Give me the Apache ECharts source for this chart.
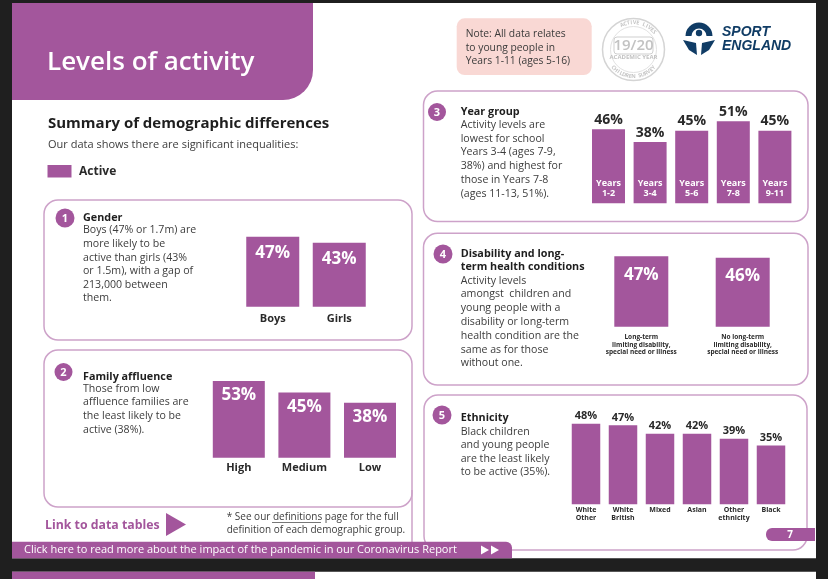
<!DOCTYPE html>
<html><head><meta charset="utf-8">
<script src="https://cdn.jsdelivr.net/npm/echarts@6/dist/echarts.min.js"></script>
<style>html,body{margin:0;padding:0;background:#1f1f1f}#c{width:828px;height:579px}</style>
</head><body><div id="c"></div><script>
// ---- data ----
const genderCats = ['Boys', 'Girls'];
const genderVals = [47, 43];
const affluenceCats = ['High', 'Medium', 'Low'];
const affluenceVals = [53, 45, 38];
const yearCats = ['Years\n1-2', 'Years\n3-4', 'Years\n5-6', 'Years\n7-8', 'Years\n9-11'];
const yearVals = [46, 38, 45, 51, 45];
const disabilityCats = ['Long-term\nlimiting disability,\nspecial need or illness', 'No long-term\nlimiting disability,\nspecial need or illness'];
const disabilityVals = [47, 46];
const ethnicityCats = ['White\nOther', 'White\nBritish', 'Mixed', 'Asian', 'Other\nethnicity', 'Black'];
const ethnicityVals = [48, 47, 42, 42, 39, 35];
const yMax = 60;

// ---- styles ----
const FONT = "'Open Sans','Noto Sans',sans-serif";
const PURPLE = '#a3569c';
const BORDER = '#cda2c9';
const DARK = '#2a2a2a';
const BODY = '#3c3c3c';
const NAVY = '#103c65';

const panels = [
  {cats: genderCats, vals: genderVals, grid: {left: 239.5, top: 217.4, width: 133, height: 89.3}, barWidth: 53,
   label: {position: 'insideTop', distance: 8, color: '#fff', fontSize: 17},
   axisLabel: {fontSize: 11, color: DARK, margin: 7}},
  {cats: affluenceCats, vals: affluenceVals, grid: {left: 206, top: 370.9, width: 196.8, height: 86.8}, barWidth: 52,
   label: {position: 'insideTop', distance: 6, color: '#fff', fontSize: 17},
   axisLabel: {fontSize: 11, color: DARK, margin: 5}},
  {cats: yearCats, vals: yearVals, grid: {left: 587.7, top: 106.7, width: 208, height: 96.6}, barWidth: 33,
   label: {position: 'top', distance: 2.5, color: DARK, fontSize: 14},
   axisLabel: {inside: true, fontSize: 9, color: '#fff', margin: 5, lineHeight: 10}},
  {cats: disabilityCats, vals: disabilityVals, grid: {left: 590.6, top: 236.7, width: 202.8, height: 90}, barWidth: 54,
   label: {position: 'insideTop', distance: 10, color: '#fff', fontSize: 17},
   axisLabel: {fontSize: 6.5, color: DARK, margin: 6.5, lineHeight: 7.7}},
  {cats: ethnicityCats, vals: ethnicityVals, grid: {left: 567.5, top: 403.5, width: 222, height: 100.8}, barWidth: 28.5,
   label: {position: 'top', distance: 2, color: DARK, fontSize: 11},
   axisLabel: {fontSize: 7, color: DARK, margin: 1.5, lineHeight: 8.3}}
];

const grid = [], xAxis = [], yAxis = [], series = [];
panels.forEach((p, i) => {
  grid.push(Object.assign({containLabel: false}, p.grid));
  xAxis.push({type: 'category', gridIndex: i, data: p.cats, z: 5,
    axisLine: {show: false}, axisTick: {show: false}, splitLine: {show: false},
    axisLabel: Object.assign({interval: 0, fontFamily: FONT, fontWeight: 'bold'}, p.axisLabel)});
  yAxis.push({type: 'value', gridIndex: i, min: 0, max: yMax, show: false, splitLine: {show: false}});
  series.push({type: 'bar', xAxisIndex: i, yAxisIndex: i, data: p.vals, barWidth: p.barWidth,
    itemStyle: {color: PURPLE}, z: 2,
    label: Object.assign({show: true, formatter: '{c}%', fontFamily: FONT, fontWeight: 'bold'}, p.label)});
});

// ---- graphic helpers ----
function T(x, y, text, size, o) {
  return {type: 'text', x: x, y: y, z: 5, style: Object.assign({text: text, fontSize: size, fontFamily: FONT, fill: BODY,
    align: 'left', verticalAlign: 'middle'}, o || {})};
}
function block(x, firstCenter, lines, size, lh, o) {
  return {type: 'text', x: x, y: firstCenter - lh / 2, z: 5, style: Object.assign({text: lines.join('\n'), fontSize: size,
    fontFamily: FONT, fill: BODY, align: 'left', verticalAlign: 'top', lineHeight: lh}, o || {})};
}
function box(x, y, w, h, r) {
  return {type: 'rect', shape: {x: x, y: y, width: w, height: h, r: r}, z: 1, style: {fill: 'none', stroke: BORDER, lineWidth: 1.5}};
}
function num(cx, cy, r, n) {
  return [{type: 'circle', shape: {cx: cx, cy: cy, r: r}, z: 3, style: {fill: PURPLE}},
          T(cx, cy + 0.5, n, 11, {align: 'center', fill: '#fff', fontWeight: 'bold'})];
}

const g = [];
// page
g.push({type: 'rect', shape: {x: 12, y: 3, width: 804, height: 555.3}, z: 0, style: {fill: '#fff'}});
g.push({type: 'rect', shape: {x: 12, y: 571.7, width: 804, height: 10}, z: 0, style: {fill: '#fff'}});
g.push({type: 'rect', shape: {x: 12, y: 571.7, width: 303, height: 10}, z: 0, style: {fill: PURPLE}});
// header
g.push({type: 'rect', shape: {x: 12, y: 3, width: 301, height: 97, r: [0, 0, 30, 0]}, z: 1, style: {fill: PURPLE}});
g.push(T(47, 63, 'Levels of activity', 26, {fill: '#fff', fontWeight: 600}));
g.push(T(48, 124, 'Summary of demographic differences', 15, {fill: '#1e1e1e', fontWeight: 'bold'}));
g.push(T(48, 145, 'Our data shows there are significant inequalities:', 11, {fill: BODY}));
g.push({type: 'rect', shape: {x: 47.5, y: 165, width: 24, height: 12.5}, z: 1, style: {fill: PURPLE}});
g.push(T(79, 171.5, 'Active', 12, {fill: DARK, fontWeight: 'bold'}));

// note box
g.push({type: 'rect', shape: {x: 456.7, y: 18.3, width: 135, height: 56.7, r: 8}, z: 1, style: {fill: '#f9d8d4'}});
g.push(block(465.7, 34.3, ['Note: All data relates', 'to young people in', 'Years 1-11 (ages 5-16)'], 10.3, 13.3, {fill: '#3a3a3a'}));

// Active Lives badge
const bcx = 633.5, bcy = 49.5;
g.push({type: 'circle', shape: {cx: bcx, cy: bcy, r: 31}, z: 1, style: {fill: 'none', stroke: '#d4d4d4', lineWidth: 1.5}});
g.push({type: 'circle', shape: {cx: bcx, cy: bcy, r: 23}, z: 1, style: {fill: 'none', stroke: '#e2e2e2', lineWidth: 1}});
g.push({type: 'rect', shape: {x: 614, y: 37, width: 39, height: 17, r: 3}, z: 1, style: {fill: 'none', stroke: '#cfcfcf', lineWidth: 1}});
g.push(T(bcx, 45.8, '19/20', 15, {align: 'center', fill: '#c2c2c2', fontWeight: 600}));
g.push(T(bcx, 57, 'ACADEMIC YEAR', 6, {align: 'center', fill: '#c2c2c2', fontWeight: 'bold'}));
function arcText(str, a0, a1, R, bottom) {
  const n = str.length;
  for (let i = 0; i < n; i++) {
    const a = (a0 + (a1 - a0) * (n === 1 ? 0.5 : i / (n - 1))) * Math.PI / 180;
    const x = bcx + R * Math.cos(a), y = bcy - R * Math.sin(a);
    const rot = bottom ? a - 1.5 * Math.PI : a - 0.5 * Math.PI;
    g.push({type: 'text', x: x, y: y, rotation: rot, z: 5, style: {text: str[i], fontSize: 5.5, fontFamily: FONT,
      fontWeight: 'bold', fill: '#c6c6c6', align: 'center', verticalAlign: 'middle'}});
  }
}
arcText('ACTIVE LIVES', 115, 40, 27, false);
arcText('CHILDREN SURVEY', 222, 318, 27, true);

// Sport England logo
g.push({type: 'arc', shape: {cx: 699, cy: 36, r: 10.5, startAngle: Math.PI, endAngle: 2 * Math.PI, clockwise: true}, z: 3,
  style: {stroke: NAVY, lineWidth: 6, fill: 'none'}});
g.push({type: 'circle', shape: {cx: 699, cy: 33, r: 3.2}, z: 3, style: {fill: NAVY}});
g.push({type: 'polygon', shape: {points: [[683, 40], [696, 43], [697, 55], [689, 50]]}, z: 3, style: {fill: NAVY}});
g.push({type: 'polygon', shape: {points: [[715, 40], [702, 43], [701, 55], [709, 50]]}, z: 3, style: {fill: NAVY}});
g.push(T(722, 32.5, 'SPORT', 14, {fill: NAVY, fontWeight: 'bold', fontStyle: 'italic', fontFamily: "'Liberation Sans',Arial,sans-serif"}));
g.push(T(722, 45.8, 'ENGLAND', 14, {fill: NAVY, fontWeight: 'bold', fontStyle: 'italic', fontFamily: "'Liberation Sans',Arial,sans-serif"}));

// panels
g.push(box(44, 200, 368, 140, 14));
g.push(box(44, 350, 368, 157, 14));
g.push({type: 'line', shape: {x1: 412, y1: 490, x2: 412, y2: 545}, z: 1, style: {stroke: BORDER, lineWidth: 1.5}});
g.push(box(423.5, 91, 384.5, 130.5, 14));
g.push(box(423.5, 233.3, 384.5, 151.7, 14));
g.push(box(424, 395, 383, 155, 14));

num(65, 218, 9.5, '1').forEach(e => g.push(e));
num(63.5, 372, 9, '2').forEach(e => g.push(e));
num(437, 112, 9, '3').forEach(e => g.push(e));
num(443, 254, 9.5, '4').forEach(e => g.push(e));
num(442, 415, 9.5, '5').forEach(e => g.push(e));

const H = {fill: '#1e1e1e', fontWeight: 'bold'};
const BS = 10.6;
g.push(T(83, 217.7, 'Gender', 10.8, H));
g.push(block(83, 230.3, ['Boys (47% or 1.7m) are', 'more likely to be', 'active than girls (43%', 'or 1.5m), with a gap of', '213,000 between', 'them.'], BS, 13.6));
g.push(T(83, 377.3, 'Family affluence', 10.8, H));
g.push(block(83, 388.5, ['Those from low', 'affluence families are', 'the least likely to be', 'active (38%).'], BS, 13.9));
g.push(T(460.7, 111.7, 'Year group', 10.8, H));
g.push(block(460.7, 125, ['Activity levels are', 'lowest for school', 'Years 3-4 (ages 7-9,', '38%) and highest for', 'those in Years 7-8', '(ages 11-13, 51%).'], BS, 13.7));
g.push(block(460.7, 254, ['Disability and long-', 'term health conditions'], 10.8, 12.8, H));
g.push(block(460.7, 280.5, ['Activity levels', 'amongst  children and', 'young people with a', 'disability or long-term', 'health condition are the', 'same as for those', 'without one.'], BS, 13.8));
g.push(T(460.7, 418.3, 'Ethnicity', 10.8, H));
g.push(block(460.7, 431.7, ['Black children', 'and young people', 'are the least likely', 'to be active (35%).'], BS, 13.4));

// link + footnote
g.push(T(45, 525, 'Link to data tables', 12.3, {fill: PURPLE, fontWeight: 'bold'}));
g.push({type: 'polygon', shape: {points: [[166, 513], [186, 524.5], [166, 536]]}, z: 3, style: {fill: PURPLE}});
g.push(T(226.7, 517.3, '* See our definitions page for the full', 10, {fill: BODY}));
g.push(T(226.7, 530, 'definition of each demographic group.', 10, {fill: BODY}));
g.push({type: 'line', shape: {x1: 272, y1: 522.5, x2: 321, y2: 522.5}, z: 3, style: {stroke: BODY, lineWidth: 0.7}});

// bottom strip + page tab
g.push({type: 'rect', shape: {x: 12, y: 541.7, width: 500, height: 16.6, r: [0, 6, 0, 0]}, z: 4, style: {fill: PURPLE}});
g.push(T(24, 550, 'Click here to read more about the impact of the pandemic in our Coronavirus Report', 11, {fill: '#fff'}));
g.push({type: 'polygon', shape: {points: [[481, 545.5], [489, 550], [481, 554.5]]}, z: 5, style: {fill: '#fff'}});
g.push({type: 'polygon', shape: {points: [[491, 545.5], [499, 550], [491, 554.5]]}, z: 5, style: {fill: '#fff'}});
g.push({type: 'rect', shape: {x: 766, y: 528, width: 49, height: 13, r: [6, 0, 0, 6]}, z: 4, style: {fill: PURPLE}});
g.push(T(790, 534.8, '7', 10, {align: 'center', fill: '#fff', fontWeight: 'bold'}));

const chart = echarts.init(document.getElementById('c'), null, {renderer: 'canvas'});
chart.setOption({
  backgroundColor: '#1f1f1f',
  animation: false,
  textStyle: {fontFamily: FONT},
  grid: grid, xAxis: xAxis, yAxis: yAxis, series: series,
  graphic: {elements: g}
});
</script></body></html>
